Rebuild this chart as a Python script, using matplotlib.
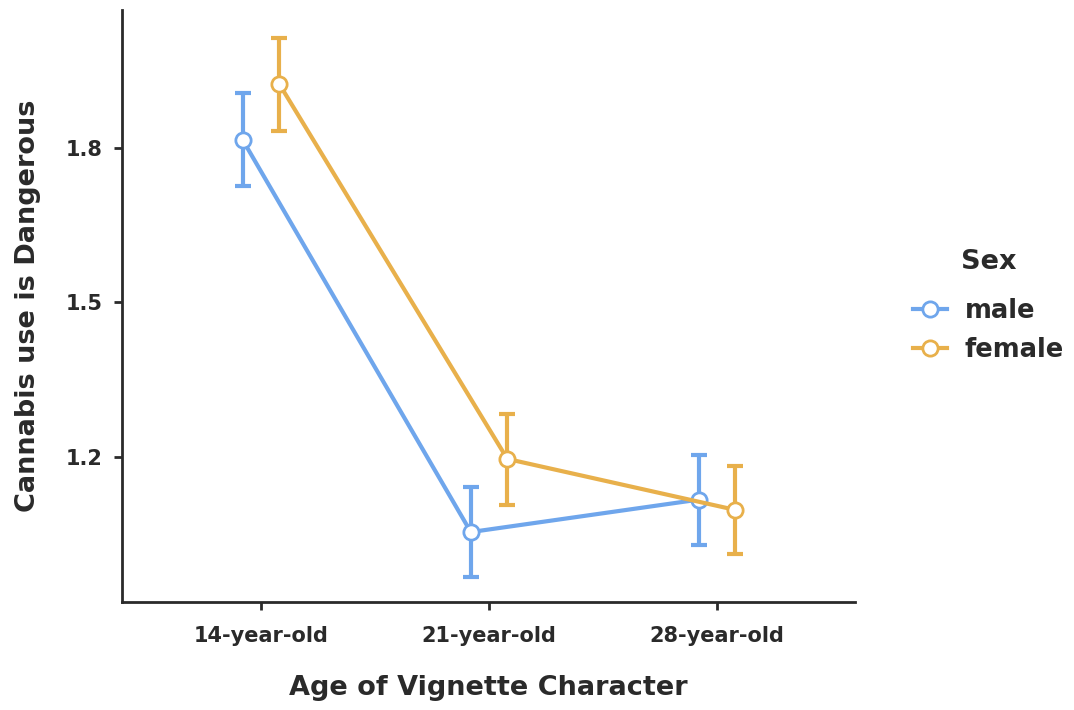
import numpy as np
import matplotlib
matplotlib.use("Agg")
import matplotlib.pyplot as plt

plt.rcParams["font.family"] = ["DejaVu Sans"]
plt.rcParams["font.weight"] = "bold"
plt.rcParams["axes.labelweight"] = "bold"

# values
ages = ["14-year-old", "21-year-old", "28-year-old"]
sexes = ["male", "female"]
means = {
    "male": [1.815, 1.054, 1.117],
    "female": [1.924, 1.196, 1.097],
}
upper = {
    "male": [1.907, 1.142, 1.204],
    "female": [2.014, 1.283, 1.183],
}
lower = {
    "male": [1.726, 0.967, 1.029],
    "female": [1.833, 1.107, 1.012],
}
colors = {"male": "#6fa6ec", "female": "#e8b04b"}
dodge = {"male": -0.08, "female": 0.08}
text_col = "#2a2a2a"

fig = plt.figure(figsize=(10.74, 7.10), dpi=100)
ax = fig.add_axes([0.1136, 0.152, 0.6825, 0.834])

x = np.arange(len(ages))
for s in sexes:
    xs = x + dodge[s]
    m = np.array(means[s])
    err = [m - np.array(lower[s]), np.array(upper[s]) - m]
    ax.errorbar(xs, m, yerr=err, fmt="none", ecolor=colors[s],
                elinewidth=3, capsize=5.5, capthick=3, zorder=2)
    ax.plot(xs, m, color=colors[s], lw=3, marker="o", ms=11,
            mfc="white", mec=colors[s], mew=2, label=s, zorder=3)

ax.set_xlim(-0.61, 2.605)
ax.set_ylim(0.918, 2.068)
ax.set_xticks(x)
ax.set_xticklabels(ages)
ax.set_yticks([1.2, 1.5, 1.8])
ax.tick_params(axis="both", labelsize=15, colors=text_col, length=6, width=2)
ax.tick_params(axis="x", pad=11)
ax.tick_params(axis="y", pad=8)
for sp in ["top", "right"]:
    ax.spines[sp].set_visible(False)
for sp in ["left", "bottom"]:
    ax.spines[sp].set_linewidth(2)
    ax.spines[sp].set_color(text_col)

ax.set_xlabel("Age of Vignette Character", fontsize=19.5, color=text_col, va="center")
ax.xaxis.set_label_coords(0.5, -0.145)
ax.set_ylabel("Cannabis use is Dangerous", fontsize=19.5, color=text_col, va="center")
ax.yaxis.set_label_coords(-0.128, 0.5)

leg = fig.legend(title="Sex", loc="center left", bbox_to_anchor=(0.829, 0.569),
                 frameon=False, fontsize=18.5, title_fontsize=19.5,
                 handlelength=1.3, handletextpad=0.7, labelspacing=0.5)
leg.get_title().set_color(text_col)
for t in leg.get_texts():
    t.set_color(text_col)
leg._legend_box.sep = 16

fig.savefig("out.png", dpi=100)
